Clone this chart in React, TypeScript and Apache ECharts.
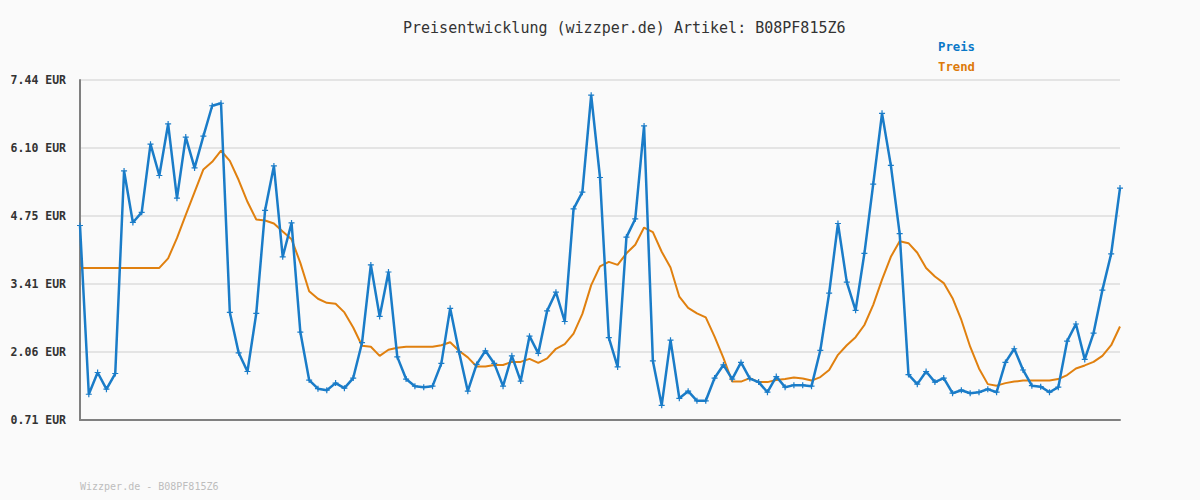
import React, { useEffect, useRef } from "react";
import * as echarts from "echarts";

const TITLE = "Preisentwicklung (wizzper.de) Artikel: B08PF815Z6";
const FOOTER = "Wizzper.de - B08PF815Z6";
const SERIES_NAMES = ["Preis", "Trend"];
const Y_MIN = 0.71;
const Y_MAX = 7.44;
const Y_TICK_LABELS = ["0.71", "2.06", "3.41", "4.75", "6.10", "7.44"];

const preis = [
  4.56, 1.22, 1.65, 1.32, 1.63, 5.64, 4.62, 4.82, 6.17, 5.55,
  6.57, 5.10, 6.31, 5.70, 6.33, 6.93, 6.98, 2.84, 2.04, 1.67,
  2.82, 4.86, 5.74, 3.94, 4.61, 2.45, 1.50, 1.33, 1.30, 1.44,
  1.34, 1.54, 2.24, 3.78, 2.76, 3.64, 1.96, 1.52, 1.38, 1.36,
  1.38, 1.83, 2.92, 2.06, 1.28, 1.81, 2.08, 1.83, 1.38, 1.98,
  1.48, 2.37, 2.03, 2.87, 3.24, 2.66, 4.89, 5.22, 7.14, 5.51,
  2.34, 1.76, 4.33, 4.69, 6.53, 1.88, 1.00, 2.29, 1.14, 1.28,
  1.09, 1.09, 1.54, 1.80, 1.52, 1.85, 1.53, 1.46, 1.26, 1.57,
  1.36, 1.40, 1.40, 1.38, 2.09, 3.22, 4.60, 3.44, 2.88, 4.01,
  5.38, 6.78, 5.75, 4.40, 1.61, 1.42, 1.67, 1.46, 1.54, 1.24,
  1.30, 1.24, 1.26, 1.32, 1.26, 1.85, 2.12, 1.70, 1.39, 1.37,
  1.26, 1.36, 2.27, 2.61, 1.91, 2.43, 3.28, 4.00, 5.30,
];

const trend = [
  3.72, 3.72, 3.72, 3.72, 3.72, 3.72, 3.72, 3.72, 3.72, 3.72,
  3.91, 4.31, 4.77, 5.22, 5.67, 5.82, 6.04, 5.84, 5.46, 5.03,
  4.68, 4.66, 4.60, 4.44, 4.29, 3.82, 3.26, 3.11, 3.03, 3.01,
  2.84, 2.54, 2.18, 2.16, 1.98, 2.10, 2.14, 2.16, 2.16, 2.16,
  2.16, 2.19, 2.25, 2.08, 1.95, 1.77, 1.77, 1.80, 1.80, 1.86,
  1.86, 1.92, 1.84, 1.93, 2.12, 2.21, 2.42, 2.81, 3.38, 3.75,
  3.84, 3.78, 4.01, 4.18, 4.52, 4.43, 4.04, 3.73, 3.15, 2.93,
  2.82, 2.74, 2.36, 1.94, 1.47, 1.47, 1.54, 1.46, 1.46, 1.50,
  1.52, 1.55, 1.53, 1.49, 1.56, 1.70, 2.00, 2.19, 2.35, 2.59,
  2.99, 3.49, 3.94, 4.25, 4.21, 4.02, 3.72, 3.55, 3.42, 3.12,
  2.69, 2.16, 1.73, 1.42, 1.39, 1.44, 1.47, 1.49, 1.49, 1.49,
  1.49, 1.52, 1.60, 1.73, 1.79, 1.86, 1.98, 2.19, 2.56,
];

const categories = preis.map((_, i) => String(i + 1));

const BLUE = "#1a7cc8";
const ORANGE = "#e0800f";
const MONO = "'DejaVu Sans Mono', 'Liberation Mono', monospace";

export default function App() {
  const ref = useRef<HTMLDivElement>(null);
  useEffect(() => {
    if (!ref.current) return;
    const chart = echarts.init(ref.current, null, { renderer: "svg" });
    const interval = (Y_MAX - Y_MIN) / (Y_TICK_LABELS.length - 1);
    chart.setOption({
      animation: false,
      backgroundColor: "#fafafa",
      title: {
        text: TITLE,
        left: 398,
        top: 15,
        textStyle: { fontFamily: MONO, fontSize: 15, fontWeight: "normal", color: "#333" },
      },
      legend: {
        orient: "vertical",
        left: 928,
        top: 35,
        itemGap: 7,
        itemWidth: 0,
        itemHeight: 14,
        icon: "none",
        selectedMode: false,
        textStyle: { fontFamily: MONO, fontSize: 12.3, fontWeight: "bold", padding: 0 },
        data: [
          { name: SERIES_NAMES[0], textStyle: { color: "#0a78c8" } },
          { name: SERIES_NAMES[1], textStyle: { color: "#dd7a0a" } },
        ],
      },
      grid: { left: 80, right: 80, top: 80, bottom: 80, containLabel: false },
      xAxis: {
        type: "category",
        data: categories,
        boundaryGap: false,
        axisLine: { show: true, lineStyle: { color: "#808080", width: 2 } },
        axisTick: { show: false },
        axisLabel: { show: false },
        splitLine: { show: false },
      },
      yAxis: {
        type: "value",
        min: Y_MIN,
        max: Y_MAX,
        interval,
        axisLine: { show: true, lineStyle: { color: "#808080", width: 2 } },
        axisTick: { show: false },
        axisLabel: {
          margin: 14,
          fontFamily: MONO,
          fontSize: 11.5,
          fontWeight: "bold",
          color: "#333",
          formatter: (v: number) => {
            const idx = Math.round((v - Y_MIN) / interval);
            return (Y_TICK_LABELS[idx] ?? v.toFixed(2)) + " EUR";
          },
        },
        splitLine: { show: true, lineStyle: { color: "#e4e4e4", width: 2 } },
      },
      graphic: [
        {
          type: "text",
          left: 80,
          top: 481,
          style: { text: FOOTER, fontFamily: MONO, fontSize: 10, fill: "#bdbdbd" },
        },
      ],
      series: [
        {
          name: SERIES_NAMES[1],
          type: "line",
          data: trend,
          showSymbol: false,
          symbol: "none",
          lineStyle: { color: ORANGE, width: 2 },
          itemStyle: { color: ORANGE },
          z: 2,
        },
        {
          name: SERIES_NAMES[0],
          type: "line",
          data: preis,
          symbol: "path://M2,0H3V2H5V3H3V5H2V3H0V2H2Z",
          symbolSize: 6,
          showSymbol: true,
          showAllSymbol: true,
          lineStyle: { color: BLUE, width: 2.5 },
          itemStyle: { color: BLUE },
          z: 3,
        },
      ],
    });
    return () => chart.dispose();
  }, []);
  return (
    <div
      ref={ref}
      style={{ position: "fixed", left: 0, top: 0, width: 1200, height: 500 }}
    />
  );
}
